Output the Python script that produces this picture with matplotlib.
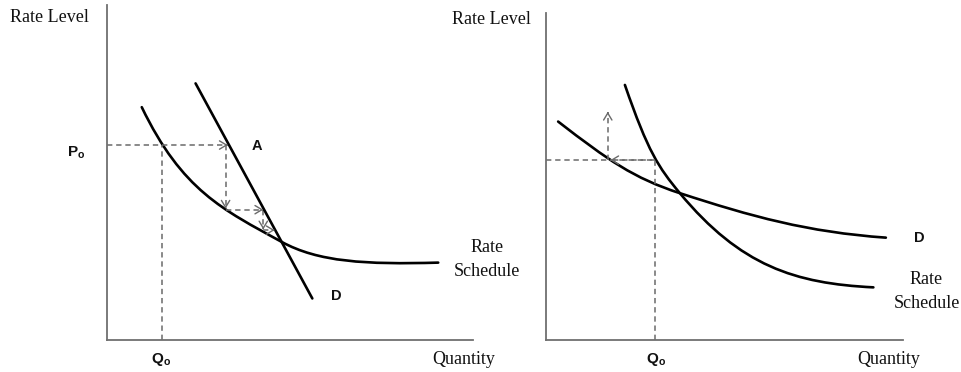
import matplotlib
matplotlib.use('Agg')
import numpy as np
import matplotlib.pyplot as plt
from matplotlib.path import Path
from matplotlib.patches import PathPatch

# Curves are stored as cubic Bezier pieces: start, ctrl, ctrl, end, ctrl, ctrl, end ...
# units: quantity 0-10 along x axis, rate 0-10 along y axis

# ---- left panel ----
left_rs_q = [0.95, 2.05, 3.17, 4.77, 5.77, 7.05, 9.05]
left_rs_p = [6.95, 4.46, 3.89, 2.93, 2.33, 2.25, 2.31]
left_d_q = [2.42, 5.61]
left_d_p = [7.66, 1.24]
left_p0 = 5.82
left_q0 = 1.50
# cobweb steps: (q_start, p_start, q_end, p_end)
left_steps = [
    (0.00, 5.82, 3.30, 5.82),
    (3.24, 5.82, 3.24, 3.92),
    (3.24, 3.89, 4.27, 3.89),
    (4.27, 3.89, 4.27, 3.30),
    (4.27, 3.28, 4.58, 3.28),
]

# ---- right panel ----
right_d_q = [0.34, 1.74, 2.45, 3.75, 5.75, 7.32, 9.52]
right_d_p = [6.68, 5.50, 4.95, 4.49, 3.78, 3.30, 3.13]
right_rs_q = [2.21, 2.86, 3.15, 3.75, 5.45, 6.97, 9.17]
right_rs_p = [7.80, 5.75, 5.28, 4.49, 2.26, 1.73, 1.61]
right_p0 = 5.50
right_q0 = 3.05
right_steps = [
    (3.05, 5.50, 1.80, 5.50),
    (1.73, 5.50, 1.73, 6.98),
]

W, H = 962, 372
plt.rcParams['mathtext.fontset'] = 'custom'
plt.rcParams['mathtext.bf'] = 'Liberation Sans:bold'
plt.rcParams['mathtext.rm'] = 'Liberation Sans'

fig = plt.figure(figsize=(W / 100, H / 100), dpi=100)

axis_col = '#707070'
dash_col = '#6a6a6a'
dash = (0, (3.5, 2.5))
serif = dict(family='Liberation Serif', fontsize=13, color='#111111')
bold = dict(family='Liberation Sans', fontsize=10.5, fontweight='bold', color='#111111')


def px(x, y):
    return x / W, 1 - y / H


def make_ax(x0, x1, ytop, ybot):
    ax = fig.add_axes([x0 / W, 1 - ybot / H, (x1 - x0) / W, (ybot - ytop) / H])
    ax.set_xlim(0, 10)
    ax.set_ylim(0, 10)
    for s in ['top', 'right']:
        ax.spines[s].set_visible(False)
    for s in ['left', 'bottom']:
        ax.spines[s].set_color(axis_col)
        ax.spines[s].set_linewidth(1.3)
    ax.set_xticks([])
    ax.set_yticks([])
    ax.patch.set_alpha(0)
    return ax


def bezier(ax, qs, ps):
    verts = list(zip(qs, ps))
    codes = [Path.MOVETO] + [Path.CURVE4] * (len(verts) - 1)
    ax.add_patch(PathPatch(Path(verts, codes), fill=False, ec='black', lw=1.9,
                           capstyle='round', clip_on=False))


def dashed_arrow(ax, x0, y0, x1, y1):
    ax.plot([x0, x1], [y0, y1], ls=dash, color=dash_col, lw=1.1, clip_on=False)
    d = np.array([x1 - x0, y1 - y0])
    d = d / np.hypot(*d) * 0.05
    ax.annotate('', xy=(x1, y1), xytext=(x1 - d[0], y1 - d[1]),
                arrowprops=dict(arrowstyle='->,head_length=0.5,head_width=0.3',
                                color=dash_col, lw=1.0, shrinkA=0, shrinkB=0))


# left
ax1 = make_ax(107, 473, 5, 340)
ax1.plot([left_q0, left_q0], [0, left_p0], ls=dash, color=dash_col, lw=1.1, clip_on=False)
for st in left_steps:
    dashed_arrow(ax1, *st)
bezier(ax1, left_rs_q, left_rs_p)
ax1.plot(left_d_q, left_d_p, color='black', lw=1.9, solid_capstyle='round')

# right
ax2 = make_ax(546, 903, 13, 340)
ax2.plot([0, right_q0], [right_p0, right_p0], ls=dash, color=dash_col, lw=1.1, clip_on=False)
ax2.plot([right_q0, right_q0], [0, right_p0], ls=dash, color=dash_col, lw=1.1, clip_on=False)
for st in right_steps:
    dashed_arrow(ax2, *st)
bezier(ax2, right_d_q, right_d_p)
bezier(ax2, right_rs_q, right_rs_p)

# labels
fig.text(*px(10, 18), 'Rate Level', ha='left', va='center', **serif)
fig.text(*px(452, 20), 'Rate Level', ha='left', va='center', **serif)
fig.text(*px(464, 359), 'Quantity', ha='center', va='center', **serif)
fig.text(*px(889, 360), 'Quantity', ha='center', va='center', **serif)
fig.text(*px(487, 248), 'Rate', ha='center', va='center', **serif)
fig.text(*px(487, 271), 'Schedule', ha='center', va='center', **serif)
fig.text(*px(926, 280), 'Rate', ha='center', va='center', **serif)
fig.text(*px(927, 303), 'Schedule', ha='center', va='center', **serif)

fig.text(*px(257, 146), 'A', ha='center', va='center', **bold)
fig.text(*px(336, 296), 'D', ha='center', va='center', **bold)
fig.text(*px(919, 238), 'D', ha='center', va='center', **bold)
fig.text(*px(76, 153), r'$\mathbf{P_o}$', ha='center', va='center', fontsize=11, color='#111111')
fig.text(*px(161, 359), r'$\mathbf{Q_o}$', ha='center', va='center', fontsize=11, color='#111111')
fig.text(*px(656, 360), r'$\mathbf{Q_o}$', ha='center', va='center', fontsize=11, color='#111111')

fig.savefig('out.png', dpi=100, facecolor='white')
